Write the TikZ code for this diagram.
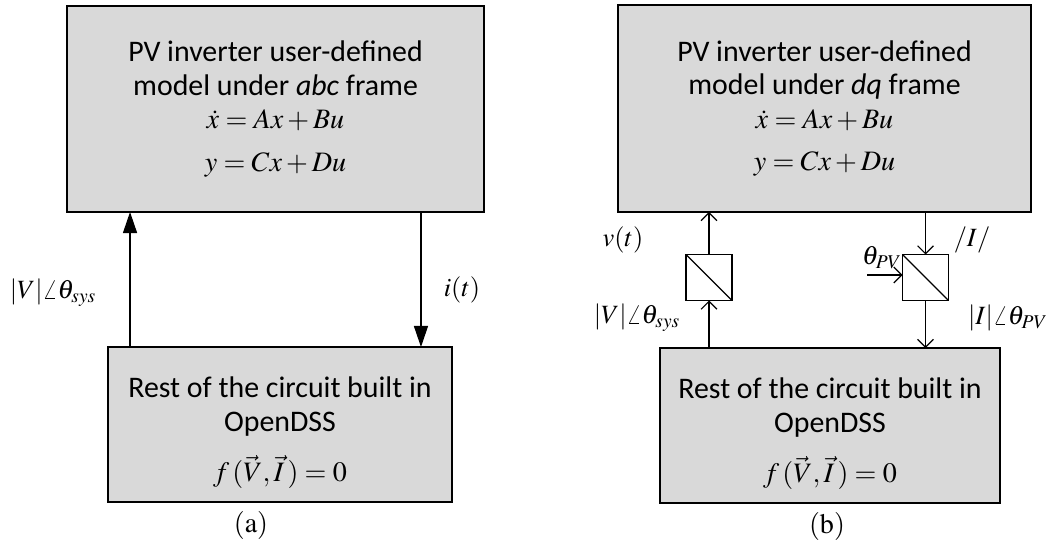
\documentclass[tikz,border=0pt]{standalone}
\usepackage{mathptmx}
\usepackage{fontspec}
\setmainfont{Carlito}
\usetikzlibrary{arrows.meta,calc}
\definecolor{boxGray}{HTML}{D9D9D9}
\newcommand{\eqsize}{\fontsize{16}{19}\selectfont}

\begin{document}
\begin{tikzpicture}[x=0.02cm,y=-0.02cm,font=\fontsize{17}{19.2}\selectfont,
		model/.style={draw, fill=boxGray, line width=0.8pt, align=center, inner sep=0, outer sep=0},
		conv/.style={draw, fill=white, line width=0.7pt, minimum size=0.92cm, inner sep=0, outer sep=0},
		solid arrow/.style={line width=0.7pt, -{Triangle[length=12pt,width=8pt]}},
		open arrow/.style={line width=0.7pt, -{Straight Barb[length=4.5pt,width=9pt]}},
		sig/.style={font=\fontsize{15}{18}\selectfont, inner sep=1pt},
		caption/.style={font=\fontsize{16}{18}\selectfont}]
	\useasboundingbox (0,0) rectangle (1061,544);
	% (a) abc frame
	\node[model, minimum width=8.34cm, minimum height=4.12cm] (abcBox) at (275.5,109)
		{PV inverter user-defined\\ model under \textit{abc} frame\\[0pt] \eqsize$\dot{x}=Ax+Bu$\\[5pt] \eqsize$y=Cx+Du$};
	\node[model, minimum width=6.88cm, minimum height=3.1cm] (restA) at (280,424.5)
		{\rule{0pt}{21pt}Rest of the circuit built in\\ OpenDSS\\[9pt] \eqsize$f\,(\vec{V},\vec{I}\,)=0$};
	\node[caption] (capA) at (251,525) {$(\mathrm{a})$};
	
	\draw[solid arrow] ([xshift=0.44cm]restA.north west) -- ([xshift=0.44cm]restA.north west |- abcBox.south);
	\draw[solid arrow] ([xshift=-0.62cm]restA.north east |- abcBox.south) -- ([xshift=-0.62cm]restA.north east);
	\node[sig] (vA) at (53,293) {$|V|\angle\theta_{sys}$};
	\node[sig] (iA) at (462,290) {$i(t)$};
	
	% (b) dq frame
	\node[model, minimum width=8.26cm, minimum height=4.14cm] (dqBox) at (824.5,108.5)
		{PV inverter user-defined\\ model under \textit{dq} frame\\[0pt] \eqsize$\dot{x}=Ax+Bu$\\[5pt] \eqsize$y=Cx+Du$};
	\node[model, minimum width=6.8cm, minimum height=3.1cm] (restB) at (830,425.5)
		{\rule{0pt}{21pt}Rest of the circuit built in\\ OpenDSS\\[9pt] \eqsize$f\,(\vec{V},\vec{I}\,)=0$};
	\node[caption] (capB) at (827,526) {$(\mathrm{b})$};
	
	\node[conv] (convV) at (709,277.5) {};
	\node[conv] (convI) at (925.5,277.5) {};
	\draw[line width=0.7pt] (convV.north west) -- (convV.south east);
	\draw[line width=0.7pt] (convI.north west) -- (convI.south east);
	\coordinate (thetaIn) at (867,275);
	
	\draw[open arrow] (restB.north -| convV) -- (convV.south);
	\draw[open arrow] (convV.north) -- (dqBox.south -| convV);
	\draw[open arrow] (dqBox.south -| convI) -- (convI.north);
	\draw[open arrow] (convI.south) -- (restB.north -| convI);
	\draw[open arrow] (thetaIn) -- (thetaIn -| convI.west);
	
	\node[sig] (vB) at (623,240) {$v(t)$};
	\node[sig] (thB) at (882,258) {$\theta_{PV}$};
	\node[sig] (iB) at (972,240) {$/I/$};
	\node[sig] (vsB) at (637,318) {$|V|\angle\theta_{sys}$};
	\node[sig] (ipB) at (1008,318) {$|I|\angle\theta_{PV}$};
\end{tikzpicture}
\end{document}
